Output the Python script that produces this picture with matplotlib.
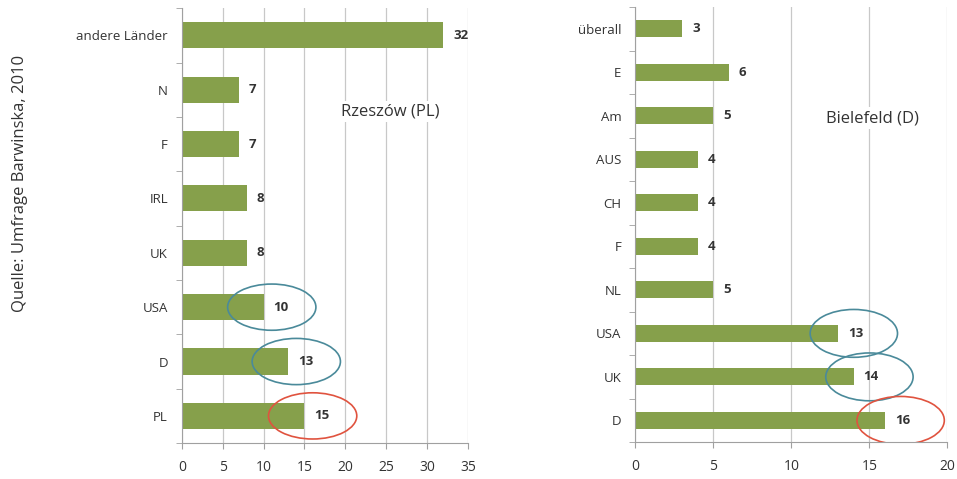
import matplotlib.pyplot as plt
from matplotlib.patches import Ellipse
from matplotlib.ticker import FixedLocator

# data
rz_labels = ["andere Länder", "N", "F", "IRL", "UK", "USA", "D", "PL"]
rz_values = [32, 7, 7, 8, 8, 10, 13, 15]
bi_labels = ["überall", "E", "Am", "AUS", "CH", "F", "NL", "USA", "UK", "D"]
bi_values = [3, 6, 5, 4, 4, 4, 5, 13, 14, 16]

# circled bars: (category, colour)
rz_marked = [("USA", "#4a8a9a"), ("D", "#4a8a9a"), ("PL", "#e0533f")]
bi_marked = [("USA", "#4a8a9a"), ("UK", "#4a8a9a"), ("D", "#e0533f")]

plt.rcParams["font.family"] = ["Open Sans", "DejaVu Sans"]
GREEN = "#86a04b"
GRID = "#c8c8c8"
TXT = "#333333"


def panel(ax, labels, values, xmax, step, barh, title, title_xy, marked, ell_w, ell_h):
    n = len(labels)
    y = list(range(n))
    ax.barh(y, values, height=barh, color=GREEN, zorder=2)
    ax.set_ylim(n - 0.5, -0.5)
    ax.set_xlim(0, xmax)
    ax.set_yticks(y)
    ax.set_yticklabels(labels, fontsize=9.5, color=TXT)
    ax.yaxis.set_minor_locator(FixedLocator([i - 0.5 for i in range(n + 1)]))
    ax.tick_params(axis="y", which="major", length=0, pad=10)
    ax.tick_params(axis="y", which="minor", length=4, color="#a0a0a0")
    ax.set_xticks(range(0, xmax + 1, step))
    ax.tick_params(axis="x", length=4, color="#a0a0a0", labelsize=10,
                   labelcolor=TXT, pad=8)
    ax.grid(axis="x", color=GRID, lw=0.9, zorder=0)
    ax.set_axisbelow(True)
    for s in ("top", "right"):
        ax.spines[s].set_visible(False)
    for s in ("left", "bottom"):
        ax.spines[s].set_color("#a0a0a0")
    for i, v in enumerate(values):
        ax.annotate(str(v), (v, i), xytext=(7, 0), textcoords="offset points",
                    va="center", ha="left", fontsize=9.5, fontweight="bold",
                    color=TXT, zorder=4)
    for lab, col in marked:
        i = labels.index(lab)
        v = values[i]
        ax.add_patch(Ellipse((v + 1.0, i), ell_w, ell_h, fill=False,
                             edgecolor=col, lw=1.2, zorder=5))
    ax.text(title_xy[0], title_xy[1], title, ha="center", va="center",
            fontsize=12, color=TXT, zorder=3,
            bbox=dict(facecolor="white", edgecolor="none", pad=2))


fig = plt.figure(figsize=(9.57, 4.79), dpi=100)
ax1 = fig.add_axes([0.190, 0.075, 0.299, 0.908])
ax2 = fig.add_axes([0.664, 0.077, 0.326, 0.908])

panel(ax1, rz_labels, rz_values, 35, 5, 0.48, "Rzeszów (PL)", (25.5, 1.4),
      rz_marked, 10.8, 0.85)
panel(ax2, bi_labels, bi_values, 20, 5, 0.39, "Bielefeld (D)", (15.2, 2.05),
      bi_marked, 5.6, 1.1)

fig.text(0.021, 0.616, "Quelle: Umfrage Barwinska, 2010", rotation=90,
         ha="center", va="center", fontsize=12, color=TXT)

fig.savefig("out.png", dpi=100)
